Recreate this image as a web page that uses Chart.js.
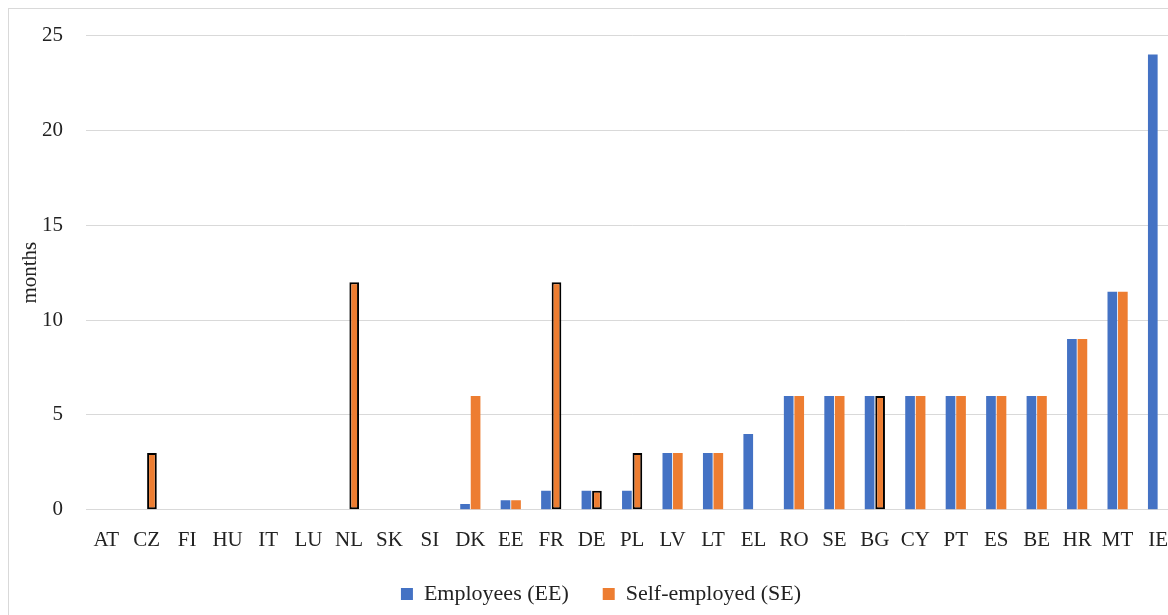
<!DOCTYPE html>
<html>
<head>
<meta charset="utf-8">
<script src="https://cdn.jsdelivr.net/npm/chart.js@4"></script>
<style>
  body { margin: 0; background: #fff; overflow: hidden; }
  #frame { position: absolute; left: 8px; top: 8px; width: 1200px; height: 700px; border: 1px solid #d9d9d9; }
  #wrap { position: absolute; left: 0; top: 0; width: 1186px; height: 615px; }
</style>
</head>
<body>
<div id="frame"></div>
<div id="wrap"><canvas id="chart"></canvas></div>
<script>
const countries = ['AT','CZ','FI','HU','IT','LU','NL','SK','SI','DK','EE','FR','DE','PL','LV','LT','EL','RO','SE','BG','CY','PT','ES','BE','HR','MT','IE']
const employees = [null,null,null,null,null,null,null,null,null,0.3,0.5,1,1,1,3,3,4,6,6,6,6,6,6,6,9,11.5,24]
const selfEmployed = [null,3,null,null,null,null,12,null,null,6,0.5,12,1,3,3,3,null,6,6,6,6,6,6,6,9,11.5,null]
// self-employed bars drawn with a black outline in the original
const outlined = ['CZ','NL','FR','DE','PL','BG']
const yTicks = [0,5,10,15,20,25]

const blue = '#4472C4'
const orange = '#ED7D31'
const font = "'Liberation Serif', 'DejaVu Serif', serif"

const seBorderColor = countries.map(c => outlined.includes(c) ? '#000' : orange)
const seBorderWidth = countries.map(c => outlined.includes(c) ? 2 : 0)

new Chart(document.getElementById('chart'), {
  type: 'bar',
  data: {
    labels: countries,
    datasets: [
      { label: 'Employees (EE)', data: employees, backgroundColor: blue, borderWidth: 0,
        categoryPercentage: 0.52, barPercentage: 0.92 },
      { label: 'Self-employed (SE)', data: selfEmployed, backgroundColor: orange,
        borderColor: seBorderColor, borderWidth: seBorderWidth, borderSkipped: false,
        categoryPercentage: 0.52, barPercentage: 0.92 }
    ]
  },
  options: {
    responsive: true,
    maintainAspectRatio: false,
    animation: false,
    layout: { padding: { left: 18, top: 26, right: 2, bottom: 0 } },
    plugins: {
      tooltip: { enabled: false },
      legend: {
        position: 'bottom',
        labels: {
          boxWidth: 12, boxHeight: 12, padding: 12, color: '#222',
          font: { family: font, size: 22 },
          // a bit more room between the two legend entries
          generateLabels: chart => Chart.defaults.plugins.legend.labels.generateLabels(chart)
            .map((l, i) => ({ ...l, text: i === 0 ? l.text + '    ' : l.text }))
        }
      }
    },
    scales: {
      x: {
        grid: { display: false, drawTicks: false },
        border: { display: false },
        ticks: { padding: 18, color: '#222', font: { family: font, size: 21 }, maxRotation: 0, autoSkip: false }
      },
      y: {
        min: 0, max: 25,
        afterBuildTicks: axis => { axis.ticks = yTicks.map(v => ({ value: v })) },
        afterFit: axis => { axis.width = 68 },
        grid: { color: '#d9d9d9', lineWidth: 1, drawTicks: false },
        border: { display: false },
        ticks: { padding: 23, color: '#222', font: { family: font, size: 21 } },
        title: { display: true, text: 'months', color: '#222', padding: { top: 0, bottom: 0 },
          font: { family: font, size: 21 } }
      }
    }
  }
})
</script>
</body>
</html>
